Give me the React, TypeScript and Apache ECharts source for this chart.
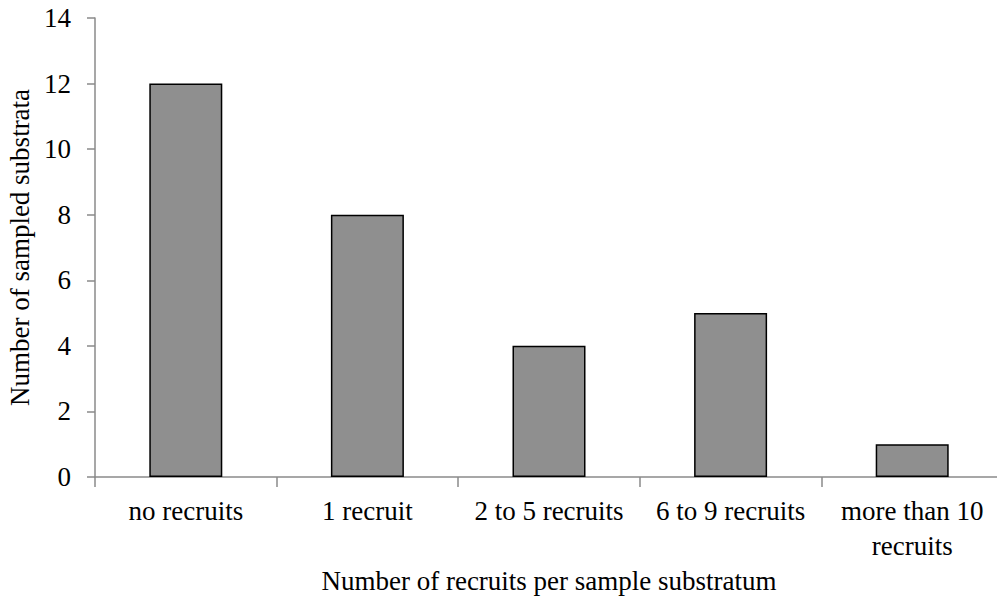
import React, { useEffect, useRef } from "react";
import * as echarts from "echarts";

const categories = ["no recruits", "1 recruit", "2 to 5 recruits", "6 to 9 recruits", "more than 10\nrecruits"];
const values = [12, 8, 4, 5, 1];
const yTicks = { min: 0, max: 14, interval: 2 };

export default function App() {
  const ref = useRef<HTMLDivElement>(null);
  useEffect(() => {
    if (!ref.current) return;
    const chart = echarts.init(ref.current, undefined, { renderer: "svg" });
    const font = "'Liberation Serif', 'Times New Roman', serif";
    chart.setOption({
      animation: false,
      backgroundColor: "#ffffff",
      grid: { left: 95, top: 18, width: 908, height: 459, containLabel: false, outerBoundsMode: "none" },
      xAxis: {
        type: "category",
        data: categories,
        boundaryGap: true,
        name: "Number of recruits per sample substratum",
        nameLocation: "middle",
        nameGap: 86,
        nameTextStyle: { fontFamily: font, fontSize: 27, color: "#000" },
        axisLine: { show: true, lineStyle: { color: "#8a8a8a", width: 1.5 } },
        axisTick: { show: true, alignWithLabel: false, length: 10, lineStyle: { color: "#8a8a8a", width: 1.5 } },
        axisLabel: { fontFamily: font, fontSize: 27, color: "#000", margin: 16, lineHeight: 35, interval: 0 },
        splitLine: { show: false },
      },
      yAxis: {
        type: "value",
        min: yTicks.min,
        max: yTicks.max,
        interval: yTicks.interval,
        name: "Number of sampled substrata",
        nameLocation: "middle",
        nameGap: 58,
        nameTextStyle: { fontFamily: font, fontSize: 27, color: "#000" },
        axisLine: { show: true, lineStyle: { color: "#8a8a8a", width: 1.5 } },
        axisTick: { show: true, length: 8, lineStyle: { color: "#8a8a8a", width: 1.5 } },
        axisLabel: { fontFamily: font, fontSize: 27, color: "#000", margin: 24 },
        splitLine: { show: false },
      },
      series: [
        {
          type: "bar",
          data: values,
          barWidth: 73,
          itemStyle: { color: "#8f8f8f", borderColor: "#000", borderWidth: 1.5 },
        },
      ],
    });
    return () => chart.dispose();
  }, []);
  return <div ref={ref} style={{ position: "absolute", left: 0, top: 0, width: 997, height: 599 }} />;
}
